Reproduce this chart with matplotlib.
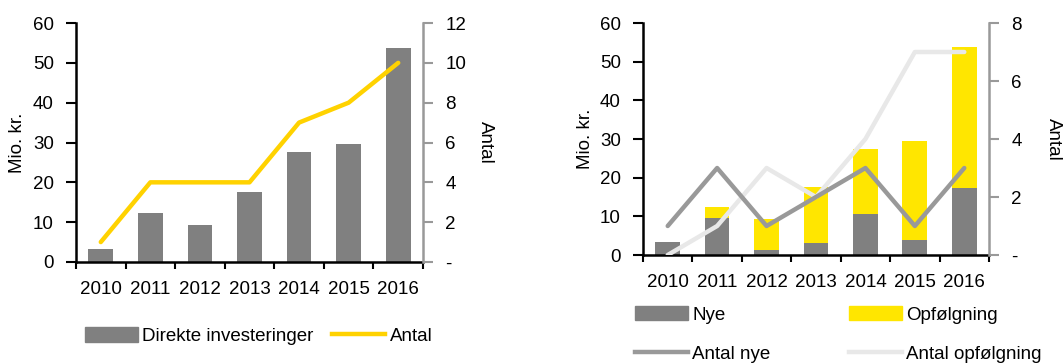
import numpy as np
import matplotlib.pyplot as plt
from matplotlib.patches import Patch
from matplotlib.lines import Line2D

plt.rcParams["font.family"] = ["Liberation Sans", "DejaVu Sans"]
plt.rcParams["font.size"] = 13.5

years = ["2010", "2011", "2012", "2013", "2014", "2015", "2016"]
direkte = [3.3, 12.3, 9.3, 17.5, 27.5, 29.6, 53.8]
antal = [1, 4, 4, 4, 7, 8, 10]

nye = [3.3, 9.5, 1.3, 3.1, 10.7, 3.9, 17.4]
opfoelgning = [0.0, 2.8, 8.0, 14.4, 16.8, 25.7, 36.4]
antal_nye = [1, 3, 1, 2, 3, 1, 3]
antal_opf = [0, 1, 3, 2, 4, 7, 7]

grey = "#808080"
yellow_line = "#FFD200"
yellow_bar = "#FFE600"
grey_line = "#999999"
light_line = "#E8E8E8"
spine_grey = "#999999"

W, H = 1064, 363
fig = plt.figure(figsize=(W / 100, H / 100), dpi=100)


def px_axes(x0, x1, y_top, y_bot):
    return fig.add_axes([x0 / W, 1 - y_bot / H, (x1 - x0) / W, (y_bot - y_top) / H])


def style(ax, ax2, ymax2, step2):
    x = np.arange(len(years))
    ax.set_xlim(-0.5, len(years) - 0.5)
    ax.set_ylim(0, 60)
    ax.set_yticks(np.arange(0, 61, 10))
    ax.set_xticks(np.arange(-0.5, len(years), 1))
    ax.set_xticklabels([])
    ax.set_xticks(x, minor=True)
    ax.set_xticklabels(years, minor=True)
    ax.tick_params(axis="x", which="major", length=5, width=1.5, direction="out")
    ax.tick_params(axis="x", which="minor", length=0, pad=14)
    ax.tick_params(axis="y", length=7, width=1.5, pad=9)
    for s in ["top", "right"]:
        ax.spines[s].set_visible(False)
    ax.spines["left"].set_linewidth(1.8)
    ax.spines["bottom"].set_linewidth(1.8)
    ax.set_ylabel("Mio. kr.")

    ax2.set_ylim(0, ymax2)
    t = np.arange(0, ymax2 + 1, step2)
    ax2.set_yticks(t)
    ax2.set_yticklabels(["-"] + [str(v) for v in t[1:]])
    for s in ["top", "left", "bottom"]:
        ax2.spines[s].set_visible(False)
    ax2.spines["right"].set_color(spine_grey)
    ax2.spines["right"].set_linewidth(1.8)
    ax2.tick_params(axis="y", length=7, width=1.5, color=spine_grey, pad=9)
    ax2.set_ylabel("Antal", rotation=270, va="bottom")


x = np.arange(len(years))

# left chart
ax = px_axes(76, 423, 23, 262)
ax2 = ax.twinx()
ax.bar(x, direkte, width=0.5, color=grey, zorder=2)
ax2.plot(x, antal, color=yellow_line, lw=3.2, solid_capstyle="round", zorder=3)
style(ax, ax2, 12, 2)
ax.yaxis.set_label_coords(-0.145, 0.5)
ax2.yaxis.set_label_coords(1.156, 0.5)
fig.legend(
    handles=[Patch(color=grey), Line2D([], [], color=yellow_line, lw=3.2)],
    labels=["Direkte investeringer", "Antal"],
    loc="center left", bbox_to_anchor=(85 / W, 1 - 336 / H),
    ncol=2, frameon=False, handlelength=2.8, handleheight=0.8,
    handletextpad=0.25, columnspacing=1.0, borderaxespad=0, borderpad=0,
)

# right chart
bx = px_axes(643, 989, 23, 255)
bx2 = bx.twinx()
bx.bar(x, nye, width=0.5, color=grey, zorder=2)
bx.bar(x, opfoelgning, width=0.5, bottom=nye, color=yellow_bar, zorder=2)
bx2.plot(x, antal_opf, color=light_line, lw=3.2, solid_capstyle="round", zorder=3)
bx2.plot(x, antal_nye, color=grey_line, lw=3.2, solid_capstyle="round", zorder=4)
style(bx, bx2, 8, 2)
bx.yaxis.set_label_coords(-0.142, 0.5)
bx2.yaxis.set_label_coords(1.162, 0.5)
fig.legend(
    handles=[Patch(color=grey), Line2D([], [], color=grey_line, lw=3.2),
             Patch(color=yellow_bar), Line2D([], [], color=light_line, lw=3.2)],
    labels=["Nye", "Antal nye", "Opfølgning", "Antal opfølgning"],
    loc="upper left", bbox_to_anchor=(635 / W, 1 - 306 / H),
    ncol=2, frameon=False, handlelength=2.8, handleheight=0.8,
    handletextpad=0.25, columnspacing=4.2, labelspacing=1.15,
    borderaxespad=0, borderpad=0,
)

fig.savefig("out.png", dpi=100)
